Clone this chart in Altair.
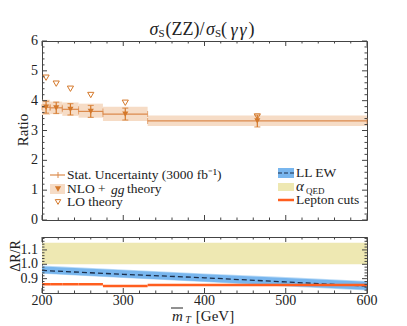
import altair as alt
import pandas as pd

SERIF = "Liberation Serif"
TXT = "#222222"
FRAME = "#444444"
MARK = "#D4782A"
LINE = "#DB8A4C"
BAND = "#F6DCC6"
BLUE_IN = "#78B6EE"
BLUE_OUT = "#BCDCF7"
DASH = "#1C2E4A"
YELLOW = "#EEE8B2"
LEPTON = "#FF5E1F"

# ---- top panel data (bins in mT, GeV) ----
x_lo = [200, 210, 225, 245, 275, 330]
x_hi = [210, 225, 245, 275, 330, 600]
x_c = [205, 217.5, 235, 260, 302.5, 465]
nlo = [3.78, 3.76, 3.71, 3.64, 3.55, 3.32]
stat_err = [0.20, 0.19, 0.19, 0.20, 0.20, 0.20]
th_lo = [3.52, 3.55, 3.49, 3.43, 3.32, 3.15]
th_hi = [4.03, 3.97, 3.94, 3.90, 3.80, 3.50]
lo_theory = [4.77, 4.57, 4.40, 4.19, 3.93, 3.47]

# ---- bottom panel data ----
ll_x = [200, 300, 400, 500, 600]
ll_mid = [0.957, 0.930, 0.906, 0.877, 0.848]
ll_lo = [0.938, 0.908, 0.880, 0.850, 0.822]
ll_hi = [0.985, 0.958, 0.930, 0.905, 0.878]
ll_lo_out = [0.934, 0.904, 0.876, 0.846, 0.818]
ll_hi_out = [0.991, 0.964, 0.936, 0.911, 0.884]
qed_lo = [1.0]
qed_hi = [1.15]
lepton = [0.861, 0.861, 0.861, 0.861, 0.848, 0.855]

# ---- tick lists / tick labels ----
x_major = [200, 300, 400, 500, 600]
x_major_labels = ["200", "300", "400", "500", "600"]
x_minor = [220, 240, 260, 280, 320, 340, 360, 380, 420, 440, 460, 480, 520, 540, 560, 580]
top_y_major = [0, 1, 2, 3, 4, 5, 6]
top_y_labels = ["0", "1", "2", "3", "4", "5", "6"]
top_y_minor = [0.2, 0.4, 0.6, 0.8, 1.2, 1.4, 1.6, 1.8, 2.2, 2.4, 2.6, 2.8,
               3.2, 3.4, 3.6, 3.8, 4.2, 4.4, 4.6, 4.8, 5.2, 5.4, 5.6, 5.8]
bot_y_major = [0.9, 1.0, 1.1]
bot_y_labels = ["0.9", "1.0", "1.1"]
bot_y_minor = [0.82, 0.84, 0.86, 0.88, 0.92, 0.94, 0.96, 0.98, 1.02, 1.04, 1.06, 1.08, 1.12, 1.14, 1.16, 1.18]

W, H_TOP, H_BOT = 325, 179, 56
XSCALE = alt.Scale(domain=[200, 600], nice=False, zero=False)
YTOP = alt.Scale(domain=[0, 6], nice=False)
YBOT = alt.Scale(domain=[0.8, 1.19], nice=False, zero=False)
HIDDEN = alt.Axis(labels=False, ticks=False, domain=False, grid=False, title=None)

top_df = pd.DataFrame({
    "xlo": x_lo, "xhi": x_hi, "xc": x_c, "nlo": nlo,
    "elo": [a - b for a, b in zip(nlo, stat_err)],
    "ehi": [a + b for a, b in zip(nlo, stat_err)],
    "tlo": th_lo, "thi": th_hi, "lo": lo_theory,
})
one = pd.DataFrame({"d": [0]})


def X(f):
    return alt.X(f, scale=XSCALE, axis=HIDDEN)


def Y(f, scale):
    return alt.Y(f, scale=scale, axis=HIDDEN)


def label(text, x, y, size=13.5, style="normal", align="left", angle=0):
    return alt.Chart(one).mark_text(
        text=text, align=align, baseline="middle", font=SERIF,
        fontSize=size, fontStyle=style, color=TXT, angle=angle
    ).encode(x=alt.value(x), y=alt.value(y))


def frame(xs_major, xs_minor, ys_major, ys_minor, y_labels, yscale, h, xlabels=None):
    layers = []
    for vals, ln in ((xs_major, 5), (xs_minor, 2.5)):
        base = alt.Chart(pd.DataFrame({"t": vals})).mark_rule(color=FRAME, strokeWidth=1)
        layers.append(base.encode(x=X("t:Q"), y=alt.value(0), y2=alt.value(ln)))
        layers.append(base.encode(x=X("t:Q"), y=alt.value(h), y2=alt.value(h - ln)))
    for vals, ln in ((ys_major, 5), (ys_minor, 2.5)):
        base = alt.Chart(pd.DataFrame({"t": vals})).mark_rule(color=FRAME, strokeWidth=1)
        layers.append(base.encode(y=Y("t:Q", yscale), x=alt.value(0), x2=alt.value(ln)))
        layers.append(base.encode(y=Y("t:Q", yscale), x=alt.value(W), x2=alt.value(W - ln)))
    layers.append(
        alt.Chart(pd.DataFrame({"t": ys_major, "s": y_labels})).mark_text(
            align="right", baseline="middle", font=SERIF, fontSize=14, color=TXT
        ).encode(y=Y("t:Q", yscale), x=alt.value(-4), text="s:N"))
    if xlabels is not None:
        layers.append(
            alt.Chart(pd.DataFrame({"t": xs_major, "s": xlabels})).mark_text(
                align="center", baseline="middle", font=SERIF, fontSize=14, color=TXT
            ).encode(x=X("t:Q"), y=alt.value(h + 7.5), text="s:N"))
    return layers


tb = alt.Chart(top_df)
band = tb.mark_rect(color=BAND).encode(x=X("xlo:Q"), x2="xhi:Q", y=Y("tlo:Q", YTOP), y2="thi:Q")
hline = tb.mark_rule(color=LINE, strokeWidth=1.2).encode(x=X("xlo:Q"), x2="xhi:Q", y=Y("nlo:Q", YTOP))
edge_l = tb.mark_tick(orient="vertical", size=6, thickness=1, color=LINE).encode(x=X("xlo:Q"), y=Y("nlo:Q", YTOP))
edge_r = tb.mark_tick(orient="vertical", size=6, thickness=1, color=LINE).encode(x=X("xhi:Q"), y=Y("nlo:Q", YTOP))
ebar = tb.mark_rule(color=MARK, strokeWidth=1.2).encode(x=X("xc:Q"), y=Y("elo:Q", YTOP), y2="ehi:Q")
cap_lo = tb.mark_tick(orient="horizontal", size=6, thickness=1.2, color=MARK).encode(x=X("xc:Q"), y=Y("elo:Q", YTOP))
cap_hi = tb.mark_tick(orient="horizontal", size=6, thickness=1.2, color=MARK).encode(x=X("xc:Q"), y=Y("ehi:Q", YTOP))
nlo_pts = tb.mark_point(shape="triangle-down", filled=True, size=38, color=MARK, opacity=1).encode(x=X("xc:Q"), y=Y("nlo:Q", YTOP))
lo_pts = tb.mark_point(shape="triangle-down", filled=False, size=38, color=MARK, strokeWidth=1, opacity=1).encode(x=X("xc:Q"), y=Y("lo:Q", YTOP))

leg = [
    # legend (left)
    alt.Chart(one).mark_rule(color=LINE, strokeWidth=1.2).encode(x=alt.value(8), x2=alt.value(23), y=alt.value(134)),
    alt.Chart(one).mark_rule(color=LINE, strokeWidth=1).encode(x=alt.value(16), y=alt.value(131), y2=alt.value(137)),
    alt.Chart(one).mark_rect(color=BAND).encode(x=alt.value(8), x2=alt.value(23), y=alt.value(143), y2=alt.value(153)),
    alt.Chart(one).mark_point(shape="triangle-down", filled=True, size=38, color=MARK, opacity=1).encode(x=alt.value(16), y=alt.value(148)),
    alt.Chart(one).mark_point(shape="triangle-down", filled=False, size=30, color=MARK, strokeWidth=1, opacity=1).encode(x=alt.value(16), y=alt.value(161)),
    label("Stat. Uncertainty (3000 fb⁻¹)", 25, 134),
    label("NLO +", 25, 148),
    label("gg", 69, 149, style="italic"),
    label("theory", 85, 148),
    label("LO theory", 25, 161),
    # legend (right)
    alt.Chart(one).mark_rect(color=BLUE_IN).encode(x=alt.value(236), x2=alt.value(252), y=alt.value(127), y2=alt.value(137)),
    alt.Chart(one).mark_rule(color=DASH, strokeWidth=1.2, strokeDash=[4, 2]).encode(x=alt.value(236), x2=alt.value(252), y=alt.value(132)),
    alt.Chart(one).mark_rect(color=YELLOW).encode(x=alt.value(236), x2=alt.value(252), y=alt.value(142), y2=alt.value(150)),
    alt.Chart(one).mark_rule(color=LEPTON, strokeWidth=2.5).encode(x=alt.value(236), x2=alt.value(252), y=alt.value(159)),
    label("LL EW", 254, 132),
    label("α", 254, 145, size=15, style="italic"),
    label("QED", 264, 150, size=9),
    label("Lepton cuts", 254, 159),
    # title
    label("σ", 112, -11, size=18, style="italic", align="center"),
    label("S", 119.5, -7.5, size=11, align="center"),
    label("(ZZ)/", 143, -11, size=18, align="center"),
    label("σ", 168.5, -11, size=18, style="italic", align="center"),
    label("S", 176, -7.5, size=11, align="center"),
    label("(", 182, -11, size=18, align="center"),
    label("γ", 192, -10, size=18, style="italic", align="center"),
    label("γ", 201, -10, size=18, style="italic", align="center"),
    label(")", 209.5, -11, size=18, align="center"),
    # y title
    label("Ratio", -19, 89, size=15, align="center", angle=270),
]

top = alt.layer(
    band, hline, edge_l, edge_r, ebar, cap_lo, cap_hi, nlo_pts, lo_pts,
    *frame(x_major, x_minor, top_y_major, top_y_minor, top_y_labels, YTOP, H_TOP),
    *leg,
).properties(width=W, height=H_TOP)

# ---- bottom panel ----
ll_df = pd.DataFrame({"x": ll_x, "mid": ll_mid, "lo": ll_lo, "hi": ll_hi,
                      "lo2": ll_lo_out, "hi2": ll_hi_out})
qed_df = pd.DataFrame({"x0": [200], "x1": [600], "lo": qed_lo, "hi": qed_hi})
lep_df = pd.DataFrame({"xlo": x_lo, "xhi": x_hi, "v": lepton})

qed = alt.Chart(qed_df).mark_rect(color=YELLOW).encode(x=X("x0:Q"), x2="x1:Q", y=Y("lo:Q", YBOT), y2="hi:Q")
llb = alt.Chart(ll_df)
ll_out = llb.mark_area(color=BLUE_OUT, opacity=1).encode(x=X("x:Q"), y=Y("lo2:Q", YBOT), y2="hi2:Q")
ll_in = llb.mark_area(color=BLUE_IN, opacity=1).encode(x=X("x:Q"), y=Y("lo:Q", YBOT), y2="hi:Q")
ll_line = llb.mark_line(color=DASH, strokeWidth=1.3, strokeDash=[5, 3]).encode(x=X("x:Q"), y=Y("mid:Q", YBOT))
lep = alt.Chart(lep_df).mark_rule(color=LEPTON, strokeWidth=2.5).encode(x=X("xlo:Q"), x2="xhi:Q", y=Y("v:Q", YBOT))

xt = [
    label("m", 135.5, 79, size=15, style="italic", align="center"),
    alt.Chart(one).mark_rule(color=TXT, strokeWidth=1).encode(x=alt.value(129), x2=alt.value(141), y=alt.value(71)),
    label("T", 146, 83, size=10, style="italic", align="center"),
    label("[GeV]", 173, 79, size=15, align="center"),
    label("ΔR/R", -26, 19, size=14, align="center", angle=270),
]

bottom = alt.layer(
    qed, ll_out, ll_in, ll_line, lep,
    *frame(x_major, x_minor, bot_y_major, bot_y_minor, bot_y_labels, YBOT, H_BOT, x_major_labels),
    *xt,
).properties(width=W, height=H_BOT)

chart = alt.vconcat(top, bottom, spacing=8).properties(
    padding={"left": 0, "top": 12, "right": 0, "bottom": 0}
).configure_view(stroke=FRAME, strokeWidth=1)

chart.save("out.html", embed_options={"renderer": "svg", "actions": False})
